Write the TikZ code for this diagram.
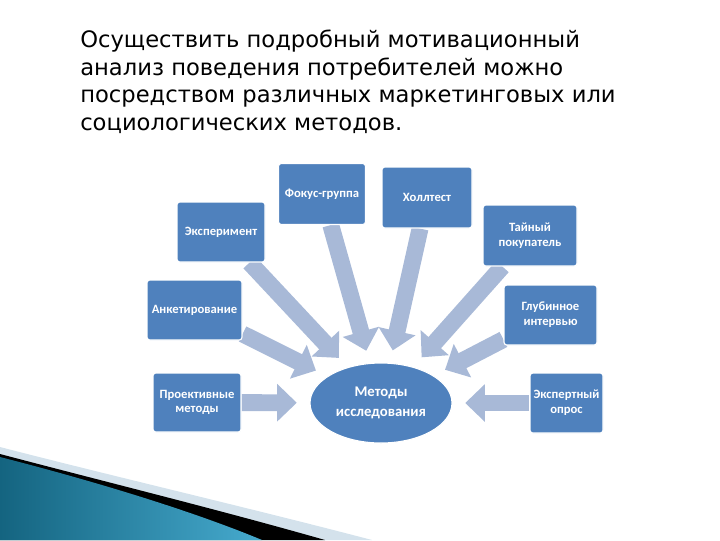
\documentclass[tikz,border=0pt]{standalone}
\usepackage{fontspec}
\setmainfont{DejaVu Sans}
\newfontfamily\smartfont{Carlito}
\usetikzlibrary{arrows.meta,shapes.geometric,backgrounds}
\definecolor{boxblue}{RGB}{79,129,189}
\definecolor{arrblue}{RGB}{168,185,215}
\definecolor{tealdark}{RGB}{20,100,128}
\definecolor{teallight}{RGB}{70,170,206}
\definecolor{stripe}{RGB}{212,226,236}

\begin{document}
\begin{tikzpicture}[x=0.025cm,y=-0.025cm,
  metod/.style 2 args={draw=white,line width=0.8pt,fill=boxblue,rounded corners=2pt,
    text=white,font=\smartfont\bfseries\fontsize{9}{10.5}\selectfont,align=center,
    inner sep=1pt,minimum width=#1*0.025cm,minimum height=#2*0.025cm},
  strel/.style={arrblue,line width=12pt,-{Triangle[length=14pt,width=26pt]},shorten >=9pt},
  riga/.style={anchor=base west,inner sep=0pt,font=\fontsize{16.1}{19.7}\selectfont}]
\useasboundingbox (0,0) rectangle (720,540);
%testo
\node[riga] (r1) at (80,47) {Осуществить подробный мотивационный};
\node[riga] (r2) at (80,75) {анализ поведения потребителей можно};
\node[riga] (r3) at (80,102) {посредством различных маркетинговых или};
\node[riga] (r4) at (80,130) {социологических методов.};
%metodi
\node[ellipse,fill=boxblue,draw=white,line width=0.8pt,minimum width=142*0.025cm,minimum height=80*0.025cm,
  text=white,align=center,font=\smartfont\bfseries\fontsize{10.5}{14}\selectfont] (met) at (381,403) {Методы\\исследования};
\node[metod={87}{61}] (fokus) at (322,194) {Фокус-группа};
\node[metod={90}{61}] (holl) at (427,197.5) {Холлтест};
\node[metod={88}{60}] (eksp) at (221,232) {Эксперимент};
\node[metod={94}{61}] (tain) at (530,235.5) {Тайный\\покупатель};
\node[metod={95}{60}] (anket) at (194.5,310) {Анкетирование};
\node[metod={93}{60}] (glub) at (550.5,315) {Глубинное\\интервью};
\node[metod={88}{59}] (proekt) at (197,402.5) {Проективные\\методы};
\node[metod={73}{60}] (ekspert) at (566.5,403) {Экспертный\\опрос};
\begin{scope}[on background layer]
\foreach \n in {fokus,holl,eksp,tain,anket,glub,proekt,ekspert}
  \draw[strel] (\n) -- (met);
%angolo in basso
\fill[stripe] (0,447) .. controls (120,478) and (250,508) .. (372,540) -- (0,540) -- cycle;
\fill[black] (0,454) .. controls (110,483) and (220,510) .. (325,540) -- (0,540) -- cycle;
\shade[left color=tealdark,right color=teallight] (0,457) .. controls (90,480) and (190,510) .. (262,540) -- (0,540) -- cycle;
\end{scope}
\end{tikzpicture}
\end{document}
